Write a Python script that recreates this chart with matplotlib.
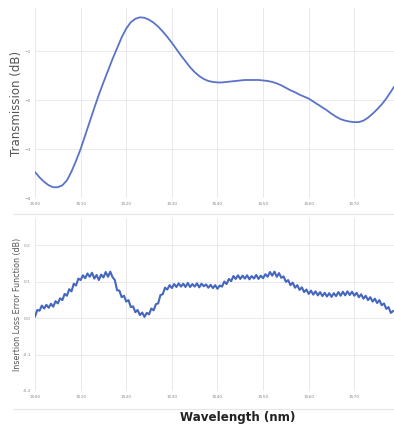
import numpy as np
import matplotlib
matplotlib.use("Agg")
import matplotlib.pyplot as plt
from matplotlib.lines import Line2D

# ---- data ----
trans_wl = [1500, 1501, 1502, 1503, 1504, 1505, 1506, 1507, 1508, 1509,
            1510, 1511, 1512, 1513, 1514, 1515, 1516, 1517, 1518, 1519,
            1520, 1521, 1522, 1523, 1524, 1525, 1526, 1527, 1528, 1529,
            1530, 1531, 1532, 1533, 1534, 1535, 1536, 1537, 1538, 1539,
            1540, 1541, 1542, 1543, 1544, 1545, 1546, 1547, 1548, 1549,
            1550, 1551, 1552, 1553, 1554, 1555, 1556, 1557, 1558, 1559,
            1560, 1561, 1562, 1563, 1564, 1565, 1566, 1567, 1568, 1569,
            1570, 1571, 1572, 1573, 1574, 1575, 1576, 1577, 1578, 1578.7]
trans_db = [-3.47, -3.58, -3.67, -3.74, -3.78, -3.78, -3.74, -3.64, -3.46, -3.24,
            -3.00, -2.72, -2.44, -2.16, -1.89, -1.64, -1.40, -1.16, -0.94, -0.72,
            -0.54, -0.41, -0.34, -0.31, -0.32, -0.36, -0.42, -0.50, -0.60, -0.71,
            -0.83, -0.96, -1.09, -1.21, -1.33, -1.43, -1.51, -1.57, -1.61, -1.63,
            -1.64, -1.64, -1.63, -1.62, -1.61, -1.60, -1.59, -1.59, -1.59, -1.59,
            -1.60, -1.61, -1.63, -1.66, -1.70, -1.75, -1.80, -1.84, -1.89, -1.93,
            -1.97, -2.03, -2.09, -2.15, -2.21, -2.28, -2.34, -2.39, -2.42, -2.44,
            -2.45, -2.45, -2.42, -2.36, -2.28, -2.19, -2.09, -1.97, -1.83, -1.73]

err_start, err_step = 1500.0, 0.5
err_db = [
    0.004, 0.022, 0.020, 0.034, 0.026, 0.036, 0.028, 0.039, 0.031, 0.046,
    0.040, 0.054, 0.049, 0.066, 0.061, 0.079, 0.073, 0.094, 0.089, 0.108,
    0.104, 0.117, 0.109, 0.122, 0.113, 0.124, 0.108, 0.118, 0.104, 0.119,
    0.111, 0.126, 0.113, 0.127, 0.112, 0.104, 0.076, 0.075, 0.057, 0.061,
    0.045, 0.049, 0.030, 0.032, 0.016, 0.022, 0.008, 0.015, 0.003, 0.014,
    0.010, 0.026, 0.021, 0.038, 0.040, 0.063, 0.065, 0.083, 0.078, 0.090,
    0.082, 0.093, 0.085, 0.095, 0.086, 0.094, 0.085, 0.096, 0.085, 0.093,
    0.086, 0.095, 0.084, 0.094, 0.087, 0.092, 0.083, 0.091, 0.082, 0.090,
    0.080, 0.089, 0.086, 0.100, 0.093, 0.107, 0.101, 0.115, 0.107, 0.117,
    0.107, 0.116, 0.108, 0.117, 0.106, 0.115, 0.108, 0.118, 0.107, 0.116,
    0.109, 0.120, 0.113, 0.126, 0.116, 0.127, 0.113, 0.123, 0.110, 0.114,
    0.099, 0.104, 0.090, 0.097, 0.083, 0.090, 0.077, 0.084, 0.071, 0.078,
    0.066, 0.075, 0.064, 0.073, 0.062, 0.071, 0.060, 0.069, 0.059, 0.068,
    0.058, 0.068, 0.060, 0.071, 0.061, 0.072, 0.062, 0.073, 0.063, 0.072,
    0.061, 0.069, 0.057, 0.065, 0.053, 0.061, 0.049, 0.057, 0.045, 0.053,
    0.041, 0.049, 0.035, 0.040, 0.025, 0.030, 0.014, 0.019,
]
err_wl = err_start + err_step * np.arange(len(err_db))

x_ticks = [1500, 1510, 1520, 1530, 1540, 1550, 1560, 1570]
top_yticks = [-1, -2, -3, -4]
bot_yticks = [0.2, 0.1, 0.0, -0.1, -0.2]

# ---- figure ----
fig = plt.figure(figsize=(3.94, 4.28), dpi=100)
W, H = 394, 428

def ax_rect(l, t, r, b):
    return [l / W, 1 - b / H, (r - l) / W, (b - t) / H]

grid_c = "#e9e9e9"
tick_c = "#8a8a8a"

ax1 = fig.add_axes(ax_rect(35, 8, 394, 198))
ax2 = fig.add_axes(ax_rect(35, 218, 394, 391))

for ax in (ax1, ax2):
    for s in ax.spines.values():
        s.set_visible(False)
    ax.grid(True, color=grid_c, linewidth=0.7)
    ax.set_axisbelow(True)
    ax.tick_params(length=0, labelsize=3.2, labelcolor=tick_c, pad=3)
    ax.set_xlim(1500, 1578.7)
    ax.set_xticks(x_ticks)

ax1.plot(trans_wl, trans_db, color="#5a73c9", linewidth=1.3, solid_capstyle="round")
ax1.set_ylim(-4.0, -0.12)
ax1.set_yticks(top_yticks)
ax1.set_ylabel("Transmission (dB)", fontsize=8.5, color="#555555", labelpad=1)

ax2.plot(err_wl, err_db, color="#4467bd", linewidth=1.5)
ax2.set_ylim(-0.2, 0.274)
ax2.set_yticks(bot_yticks)
ax2.set_yticklabels([f"{v:.1f}" for v in bot_yticks])
ax2.set_ylabel("Insertion Loss Error Function (dB)", fontsize=5.8, color="#555555", labelpad=0)

# separator lines
fig.add_artist(Line2D([13 / W, 1], [1 - 214 / H, 1 - 214 / H], color="#e6e6e6", linewidth=0.8))
fig.add_artist(Line2D([13 / W, 1], [1 - 409 / H, 1 - 409 / H], color="#e6e6e6", linewidth=0.8))

fig.text(238 / W, 1 - 418 / H, "Wavelength (nm)", ha="center", va="center",
         fontsize=8.6, fontweight="bold", color="#222222")

fig.savefig("out.png", dpi=100, facecolor="white")
